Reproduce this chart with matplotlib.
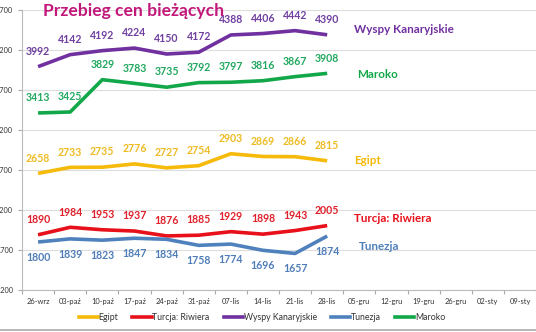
import matplotlib
matplotlib.use("Agg")
import matplotlib.pyplot as plt
from matplotlib.lines import Line2D

categories = ["26-wrz", "03-paź", "10-paź", "17-paź", "24-paź", "31-paź", "07-lis",
              "14-lis", "21-lis", "28-lis", "05-gru", "12-gru", "19-gru", "26-gru",
              "02-sty", "09-sty"]
egipt = [2658, 2733, 2735, 2776, 2727, 2754, 2903, 2869, 2866, 2815]
turcja = [1890, 1984, 1953, 1937, 1876, 1885, 1929, 1898, 1943, 2005]
wyspy = [3992, 4142, 4192, 4224, 4150, 4172, 4388, 4406, 4442, 4390]
tunezja = [1800, 1839, 1823, 1847, 1834, 1758, 1774, 1696, 1657, 1874]
maroko = [3413, 3425, 3829, 3783, 3735, 3792, 3797, 3816, 3867, 3908]
yticks = [1200, 1700, 2200, 2700, 3200, 3700, 4200, 4700]

series = [
    ("Egipt", egipt, "#F5BA0A", "#EEBB22", 1),
    ("Turcja: Riwiera", turcja, "#E8101A", "#E0202A", 1),
    ("Wyspy Kanaryjskie", wyspy, "#7030A0", "#7040A0", 1),
    ("Tunezja", tunezja, "#4F81BD", "#4F7DB8", -1),
    ("Maroko", maroko, "#12A84A", "#22A860", 1),
]
name_pos = {
    "Wyspy Kanaryjskie": (9.83, 4462),
    "Maroko": (9.92, 3888),
    "Egipt": (9.83, 2825),
    "Turcja: Riwiera": (9.83, 2100),
    "Tunezja": (9.98, 1740),
}

plt.rcParams['font.family'] = ['Lato', 'DejaVu Sans']

fig = plt.figure(figsize=(5.36, 3.32), dpi=100)
ax = fig.add_axes([22/536, 42/332, 514/536, 280/332])

x = list(range(len(categories)))
for name, vals, col, tcol, side in series:
    xs = x[:len(vals)]
    ax.plot(xs, vals, color=col, lw=2.6, solid_capstyle='butt', zorder=3)
    for xi, v in zip(xs, vals):
        ax.annotate(str(v), (xi, v), xytext=(0, 11 * side), textcoords='offset points',
                    ha='center', va='center', fontsize=7.6, fontweight='bold',
                    color=tcol, zorder=4)
    tx, ty = name_pos[name]
    ax.text(tx, ty, name, color=col, fontsize=8.4, fontweight='bold',
            ha='left', va='center')

ax.set_xlim(-0.5, len(categories) - 0.5)
ax.set_ylim(1200, 4700)
ax.set_yticks(yticks)
ax.set_yticklabels([str(t) for t in yticks], fontsize=5.3, color='#333333')
ax.set_xticks(x)
ax.set_xticklabels(categories, fontsize=5.4, color='#333333')
ax.set_xticks([i - 0.5 for i in range(len(categories) + 1)], minor=True)
ax.tick_params(axis='x', which='major', length=0, pad=6)
ax.tick_params(axis='x', which='minor', length=3, color='#AAAAAA', width=0.8)
ax.tick_params(axis='y', length=3, color='#AAAAAA', width=0.8, pad=3.5)
ax.grid(axis='y', color='#DDDDDD', lw=0.8)
ax.set_axisbelow(True)
for s in ['top', 'right']:
    ax.spines[s].set_visible(False)
ax.spines['left'].set_color('#BBBBBB')
ax.spines['bottom'].set_color('#BBBBBB')

handles = [Line2D([0], [0], color=col, lw=2.6) for _, _, col, _, _ in series]
labels = [n for n, _, _, _, _ in series]
fig.legend(handles, labels, loc='center', bbox_to_anchor=(262/536, 1 - 318/332),
           ncol=5, frameon=False, fontsize=6.3, handlelength=2.2, handletextpad=0.1,
           columnspacing=1.6, labelcolor='#333333')

fig.text(43/536, 1 - 11/332, "Przebieg cen bieżących", color='#C2187A', fontsize=12.6,
         fontweight='bold', ha='left', va='center')

fig.add_artist(Line2D([0, 1], [1 - 330/332, 1 - 330/332], color='#AAAAAA', lw=1.2,
                      transform=fig.transFigure))

fig.savefig("out.png", dpi=100)
